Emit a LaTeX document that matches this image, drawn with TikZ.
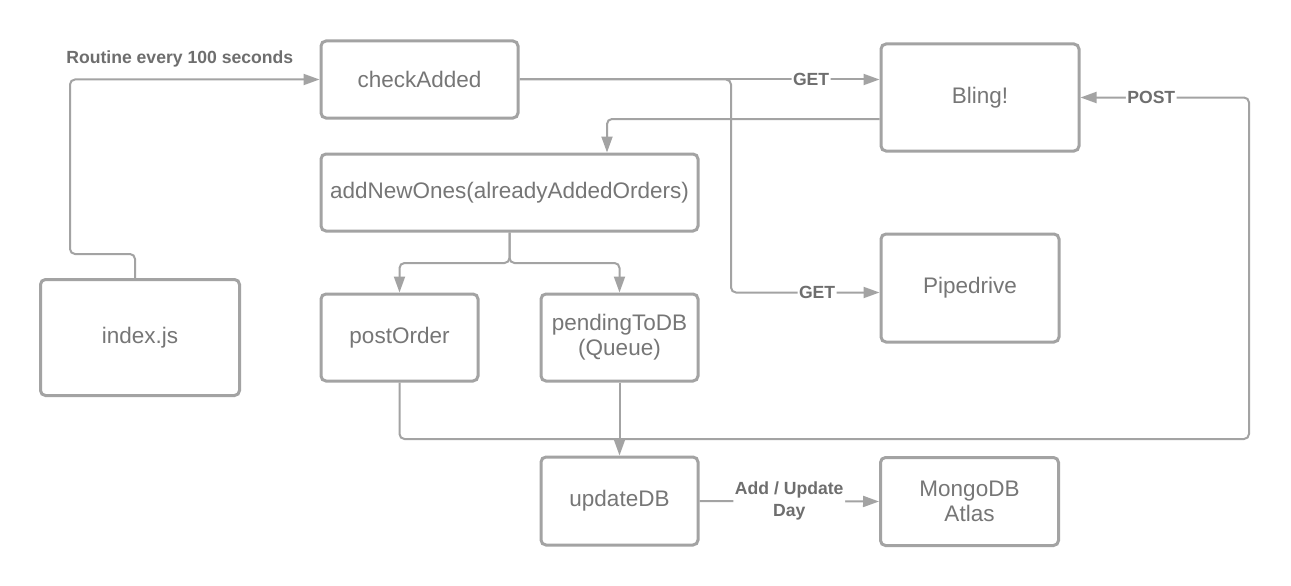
\documentclass[tikz,border=0pt]{standalone}
\usepackage{fontspec}
\setmainfont{Liberation Sans}
\usetikzlibrary{arrows.meta}
\definecolor{linegray}{RGB}{163,163,163}
\definecolor{txtgray}{RGB}{118,118,118}
\definecolor{lblgray}{RGB}{110,110,110}

\begin{document}
\begin{tikzpicture}[x=1pt,y=-1pt,>={Triangle[length=16pt,width=11pt]},
    box/.style={draw=linegray,line width=3pt,rounded corners=5pt,text=txtgray,
        font=\fontsize{22.5}{25}\selectfont,align=center,inner sep=0pt},
    link/.style={draw=linegray,line width=2pt,rounded corners=5pt},
    lbl/.style={text=lblgray,font=\fontsize{17.6}{22}\selectfont\bfseries,
        fill=white,inner sep=1.5pt,align=center}]
        \useasboundingbox[fill=white] (0,0) rectangle (1291,586);

        \node[box,minimum width=199pt,minimum height=116pt] (index) at (140,337.5) {index.js};
        \node[box,minimum width=197pt,minimum height=77pt] (checkAdded) at (419.5,79.5) {checkAdded};
        \node[box,minimum width=377pt,minimum height=77pt] (addNew) at (509.5,192.5) {addNewOnes(alreadyAddedOrders)};
        \node[box,minimum width=157pt,minimum height=87pt] (postOrder) at (399.5,337.5) {postOrder};
        \node[box,minimum width=157pt,minimum height=87pt] (pending) at (619.5,337.5) {pendingToDB\\(Queue)};
        \node[box,minimum width=157pt,minimum height=88pt] (updateDB) at (619.5,501) {updateDB};
        \node[box,minimum width=198pt,minimum height=107pt] (bling) at (980,97.5) {Bling!};
        \node[box,minimum width=178pt,minimum height=108pt] (pipedrive) at (970,288) {Pipedrive};
        \node[box,minimum width=178pt,minimum height=88pt] (mongo) at (969.5,501.5) {MongoDB\\Atlas};

        \coordinate (bendL) at (70,254);
        \coordinate (getX) at (731,200);
        \coordinate (fork) at (509.5,263);
        \coordinate (loopR) at (1249,439);

        \draw[link,->] ([xshift=-5pt]index.north) |- (bendL) |- (checkAdded.west)
            node[lbl,pos=0.72,yshift=21pt] {Routine every 100 seconds};
        \draw[link,->] (checkAdded.east) -- (checkAdded.east -| bling.west) node[lbl,pos=0.81] {GET};
        \draw[link,->] (checkAdded.east) -| (getX) |- ([yshift=-4.5pt]pipedrive.west) node[lbl,pos=0.79] {GET};
        \draw[link,->] ([yshift=-21.5pt]bling.west) -| ([xshift=97.5pt]addNew.north);
        \draw[link,->] (addNew.south) -- (fork) -| (postOrder.north);
        \draw[link,->] (addNew.south) -- (fork) -| (pending.north);
        \draw[link,->] (postOrder.south) |- (loopR) |- (bling.east) node[lbl,pos=0.79] {POST};
        \draw[link,->] (pending.south) -- (updateDB.north);
        \draw[link,->] (updateDB.east) -- (mongo.west) node[lbl,midway] {Add / Update\\Day};
    \end{tikzpicture}
\end{document}
